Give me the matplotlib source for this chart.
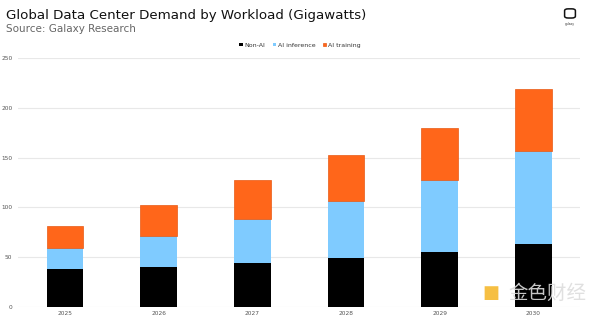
import numpy as np
import matplotlib.pyplot as plt
from matplotlib.patches import FancyBboxPatch

years = ['2025', '2026', '2027', '2028', '2029', '2030']
non_ai = [38, 40, 44, 49, 55, 63]
ai_inference = [21, 31, 44, 57, 73, 94]
ai_training = [22, 31, 39, 47, 52, 62]

c_non = '#000000'
c_inf = '#7fcbff'
c_train = '#ff661a'

fig = plt.figure(figsize=(6, 3.16), dpi=100)
ax = fig.add_axes([0.03, 0.0285, 0.937, 0.788])

x = np.arange(len(years))
w = 0.39
bottom_inf = np.array(non_ai)
bottom_train = bottom_inf + np.array(ai_inference)
ax.bar(x, non_ai, w, color=c_non, label='Non-AI', zorder=3)
ax.bar(x, ai_inference, w, bottom=bottom_inf, color=c_inf, label='AI inference', zorder=3)
ax.bar(x, ai_training, w, bottom=bottom_train, color=c_train, edgecolor='#e85a14',
       linewidth=0.5, label='AI training', zorder=3)

ax.set_xlim(-0.5, len(years) - 0.5)
ax.set_ylim(0, 250)
ax.set_yticks([0, 50, 100, 150, 200, 250])
ax.set_xticks(x)
ax.set_xticklabels(years)
ax.tick_params(length=0, labelsize=4.2, colors='#555555', pad=3)
ax.tick_params(axis='y', pad=4)
ax.grid(axis='y', color='#e8e8e8', linewidth=0.8, zorder=0)
for s in ax.spines.values():
    s.set_visible(False)

leg = fig.legend(loc='center', bbox_to_anchor=(0.5, 0.857), ncol=3, frameon=False,
                 fontsize=4.5, handlelength=0.5, handleheight=0.5, handletextpad=0.3,
                 columnspacing=1.2, labelcolor='#333333')

fig.text(0.01, 0.952, 'Global Data Center Demand by Workload (Gigawatts)', fontsize=9.6,
         color='#111111', va='center', ha='left', weight='medium')
fig.text(0.01, 0.908, 'Source: Galaxy Research', fontsize=7.5, color='#666666',
         va='center', ha='left')

# galaxy logo, top right
logo = FancyBboxPatch((0.943, 0.945), 0.014, 0.025, boxstyle='round,pad=0.002,rounding_size=0.006',
                      transform=fig.transFigure, fill=False, edgecolor='#111111', linewidth=1.1)
fig.patches.append(logo)
fig.text(0.95, 0.925, 'galaxy', fontsize=2.2, color='#333333', ha='center', va='center')

# watermark, bottom right
fig.text(0.818, 0.072, '■', fontsize=13, color='#f5b82e', ha='center', va='center', alpha=0.9)
fig.text(0.912, 0.072, '金色财经', fontsize=14, color='#dddddd', ha='center', va='center',
         family=['Noto Sans CJK SC', 'DejaVu Sans'], alpha=0.9)

fig.savefig('out.png', dpi=100)
